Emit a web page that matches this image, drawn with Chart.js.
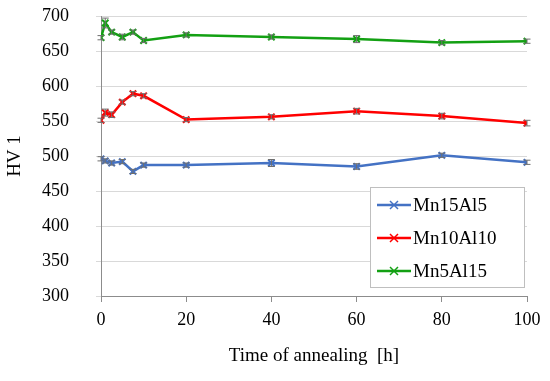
<!DOCTYPE html>
<html>
<head>
<meta charset="utf-8">
<script src="https://cdn.jsdelivr.net/npm/chart.js@4.4.1/dist/chart.umd.min.js"></script>
<style>
  html, body { margin: 0; padding: 0; background: #fff; }
  #wrap { width: 550px; height: 381px; }
</style>
</head>
<body>
<div id="wrap"><canvas id="hvChart"></canvas></div>
<script>
// Data
const times = [0, 1, 2.5, 5, 7.5, 10, 20, 40, 60, 80, 100];
const seriesNames = ['Mn15Al5', 'Mn10Al10', 'Mn5Al15'];
const mn15al5 = [496, 493, 490, 492, 478, 487, 487, 490, 485, 501, 491];
const mn15al5Err = [3, 3, 3, 3, 3, 3, 3, 5, 4, 3, 3];
const mn10al10 = [551, 562, 559, 577, 589, 586, 552, 556, 564, 557, 547];
const mn10al10Err = [3, 5, 4, 3, 3, 3, 3, 3, 4, 4, 4];
const mn5al15 = [669, 690, 677, 670, 677, 665, 673, 670, 667, 662, 664];
const mn5al15Err = [3, 7, 3, 4, 3, 3, 3, 3, 5, 3, 3];
const colors = ['#4472C4', '#FF0000', '#13A013'];

const serif = "'Liberation Serif', 'DejaVu Serif', serif";

function makeSet(name, values, errs, color) {
    return {
        label: name,
        data: times.map((t, i) => ({ x: t, y: values[i] })),
        errors: errs,
        borderColor: color,
        backgroundColor: color,
        borderWidth: 2.5,
        pointStyle: 'crossRot',
        pointRadius: 4.5,
        pointBorderWidth: 2,
        showLine: true,
        tension: 0
    };
}

// error bars drawn with the chart's scales
const errorBars = {
    id: 'errorBars',
    afterDatasetsDraw(chart) {
        const ctx = chart.ctx;
        const xs = chart.scales.x, ys = chart.scales.y;
        ctx.save();
        ctx.strokeStyle = '#6f6f6f';
        ctx.lineWidth = 1;
        chart.data.datasets.forEach(ds => {
            ds.data.forEach((p, i) => {
                const e = ds.errors[i];
                const px = xs.getPixelForValue(p.x);
                const top = ys.getPixelForValue(p.y + e);
                const bot = ys.getPixelForValue(p.y - e);
                ctx.beginPath();
                ctx.moveTo(px, top); ctx.lineTo(px, bot);
                ctx.moveTo(px - 3.5, top); ctx.lineTo(px + 3.5, top);
                ctx.moveTo(px - 3.5, bot); ctx.lineTo(px + 3.5, bot);
                ctx.stroke();
            });
        });
        ctx.restore();
    }
};

// legend box inside plot area, bottom right
const boxLegend = {
    id: 'boxLegend',
    afterDraw(chart) {
        const ctx = chart.ctx;
        const left = 370, top = 187, w = 154, h = 100;
        ctx.save();
        ctx.fillStyle = '#fff';
        ctx.fillRect(left, top, w, h);
        ctx.strokeStyle = '#bfbfbf';
        ctx.lineWidth = 1;
        ctx.strokeRect(left + 0.5, top + 0.5, w, h);
        ctx.font = '19px ' + serif;
        ctx.textBaseline = 'middle';
        chart.data.datasets.forEach((ds, i) => {
            const cy = top + 18 + i * 33;
            ctx.strokeStyle = ds.borderColor;
            ctx.lineWidth = 2.5;
            ctx.beginPath();
            ctx.moveTo(left + 7, cy); ctx.lineTo(left + 41, cy);
            ctx.stroke();
            ctx.lineWidth = 1.5;
            ctx.beginPath();
            ctx.moveTo(left + 20, cy - 4); ctx.lineTo(left + 28, cy + 4);
            ctx.moveTo(left + 20, cy + 4); ctx.lineTo(left + 28, cy - 4);
            ctx.stroke();
            ctx.fillStyle = '#000';
            ctx.fillText(ds.label, left + 43, cy + 1);
        });
        ctx.restore();
    }
};

new Chart(document.getElementById('hvChart'), {
    type: 'scatter',
    data: {
        datasets: [
            makeSet(seriesNames[0], mn15al5, mn15al5Err, colors[0]),
            makeSet(seriesNames[1], mn10al10, mn10al10Err, colors[1]),
            makeSet(seriesNames[2], mn5al15, mn5al15Err, colors[2])
        ]
    },
    options: {
        responsive: true,
        maintainAspectRatio: false,
        animation: false,
        layout: { padding: { top: 16, right: 23, left: 0, bottom: 0 } },
        plugins: {
            legend: { display: false },
            tooltip: { enabled: false }
        },
        scales: {
            x: {
                type: 'linear',
                min: 0, max: 100,
                ticks: { stepSize: 20, color: '#000', padding: 7, font: { family: serif, size: 18 } },
                grid: { display: true, drawOnChartArea: false, drawTicks: true, tickLength: 6, color: '#8c8c8c' },
                border: { color: '#8c8c8c', width: 1 },
                title: { display: true, text: 'Time of annealing  [h]', color: '#000', padding: { top: 4, bottom: 14 }, font: { family: serif, size: 19 } },
                afterFit(scale) { scale.height = 85; }
            },
            y: {
                min: 300, max: 700,
                ticks: { stepSize: 50, color: '#000', padding: 27, font: { family: serif, size: 18 } },
                grid: { color: '#d9d9d9', lineWidth: 1, drawTicks: true, tickLength: 5 },
                border: { color: '#8c8c8c', width: 1 },
                title: { display: true, text: 'HV 1', color: '#000', padding: { bottom: 0 }, font: { family: serif, size: 19 } },
                afterFit(scale) { scale.width = 101; scale.paddingTop = 0; scale.paddingBottom = 0; }
            }
        }
    },
    plugins: [errorBars, boxLegend]
});
</script>
</body>
</html>
